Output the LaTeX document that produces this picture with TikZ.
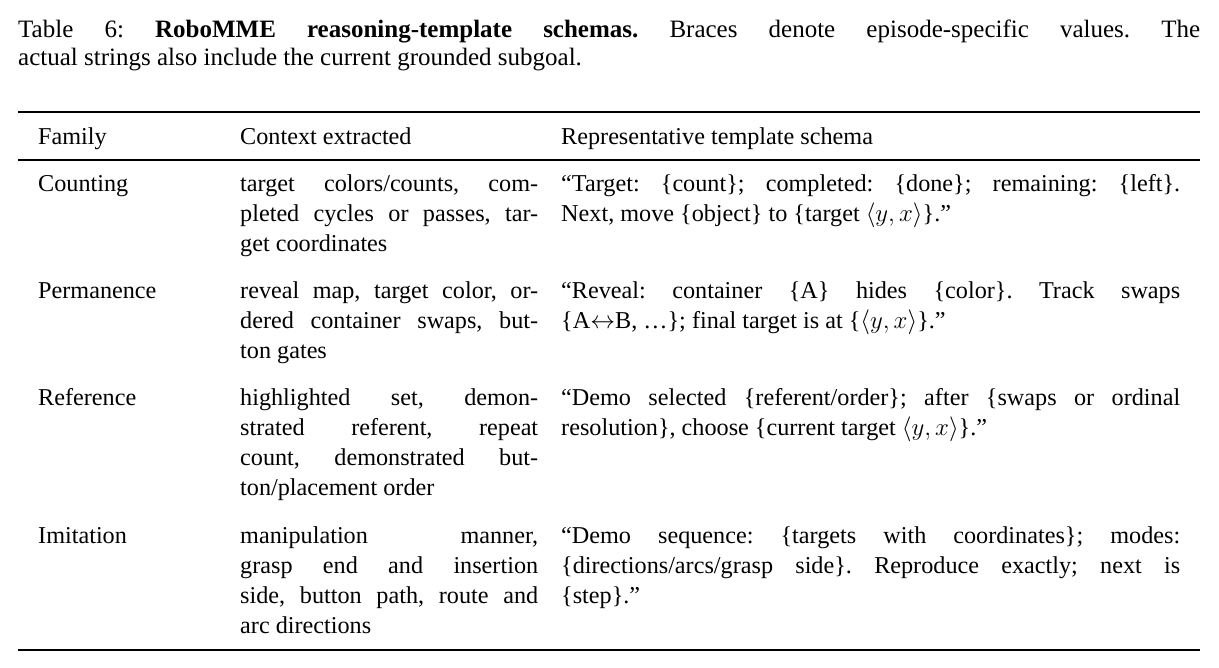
\documentclass[tikz,border=0pt]{standalone}
\usepackage{fontspec}
\setmainfont{Liberation Serif}
\frenchspacing
\begin{document}
\begin{tikzpicture}[x=1pt,y=-1pt,
  cell/.style={anchor=base west,inner sep=0pt,align=justify,font=\fontsize{24.2}{30}\selectfont},
  c1/.style={cell,text width=190pt},
  c2/.style={cell,text width=298pt},
  c3/.style={cell,text width=619pt}]
\useasboundingbox (0,0) rectangle (1219,668);
\node[cell,text width=1182pt,font=\fontsize{25}{28}\selectfont] (cap) at (18,38) {Table 6: \textbf{RoboMME reasoning-template schemas.} Braces denote episode-specific values. The\linebreak actual strings also include the current grounded subgoal.};
\draw[line width=2.4pt] (18,112) coordinate (tl) -- (1200,112) coordinate (tr);
\draw[line width=1.2pt] (18,160) coordinate (ml) -- (1200,160) coordinate (mr);
\draw[line width=2.4pt] (18,650) coordinate (bl) -- (1200,650) coordinate (br);
\node[c1] (h1) at (38,145) {Family};
\node[c2] (h2) at (240,145) {Context extracted};
\node[c3] (h3) at (561,145) {Representative template schema};
\node[c1] (a1) at (38,192) {Counting};
\node[c2] (a2) at (240,192) {target colors/counts, com-\linebreak pleted cycles or passes, tar-\linebreak get coordinates};
\node[c3] (a3) at (561,192) {``Target: \{count\}; completed: \{done\}; remaining: \{left\}.\linebreak Next, move \{object\} to \{target $\langle y,x\rangle$\}.''};
\node[c1] (b1) at (38,299) {Permanence};
\node[c2] (b2) at (240,299) {reveal map, target color, or-\linebreak dered container swaps, but-\linebreak ton gates};
\node[c3] (b3) at (561,299) {``Reveal: container \{A\} hides \{color\}. Track swaps\linebreak \{A$\leftrightarrow$B, \ldots\}; final target is at \{$\langle y,x\rangle$\}.''};
\node[c1] (r1) at (38,406) {Reference};
\node[c2] (r2) at (240,406) {highlighted set, demon-\linebreak strated referent, repeat\linebreak count, demonstrated but-\linebreak ton/placement order};
\node[c3] (r3) at (561,406) {``Demo selected \{referent/order\}; after \{swaps or ordinal\linebreak resolution\}, choose \{current target $\langle y,x\rangle$\}.''};
\node[c1] (i1) at (38,543) {Imitation};
\node[c2] (i2) at (240,543) {manipulation manner,\linebreak grasp end and insertion\linebreak side, button path, route and\linebreak arc directions};
\node[c3] (i3) at (561,543) {``Demo sequence: \{targets with coordinates\}; modes:\linebreak \{directions/arcs/grasp side\}. Reproduce exactly; next is\linebreak \{step\}.''};
\end{tikzpicture}
\end{document}
